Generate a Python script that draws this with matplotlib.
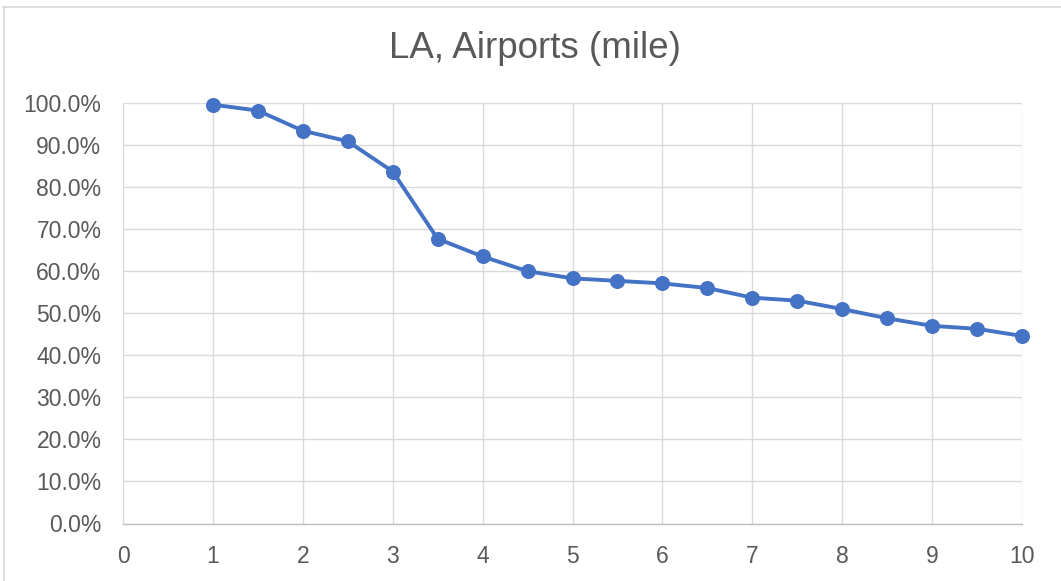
import matplotlib
matplotlib.use("Agg")
import matplotlib.pyplot as plt
from matplotlib.lines import Line2D
from matplotlib.ticker import PercentFormatter

# Distance in miles and share of locations within that distance
distance_miles = [1, 1.5, 2, 2.5, 3, 3.5, 4, 4.5, 5, 5.5, 6, 6.5, 7, 7.5, 8, 8.5, 9, 9.5, 10]
share_pct = [99.6, 98.2, 93.4, 90.9, 83.7, 67.7, 63.5, 60.0, 58.3, 57.7, 57.1, 56.0,
             53.7, 53.0, 51.0, 48.8, 47.0, 46.3, 44.6]
x_ticks = list(range(0, 11))
y_ticks = list(range(0, 101, 10))
title = "LA, Airports (mile)"

plt.rcParams["font.family"] = ["Liberation Sans", "DejaVu Sans"]

W, H = 1061, 581
fig = plt.figure(figsize=(W / 100, H / 100), dpi=100)
ax = fig.add_axes([123 / W, 1 - 523.5 / H, (1022 - 123) / W, (523.5 - 103) / H])

# Chart-area border (top and left edges)
border = dict(transform=fig.transFigure, color="#D9D9D9", linewidth=1.2, zorder=0)
fig.add_artist(Line2D([3 / W, 1.0], [1 - 6.5 / H, 1 - 6.5 / H], **border))
fig.add_artist(Line2D([3.5 / W, 3.5 / W], [0.0, 1 - 6.5 / H], **border))

ax.plot(distance_miles, share_pct, color="#4472C4", linewidth=2.8,
        marker="o", markersize=9.8, markerfacecolor="#4472C4",
        markeredgecolor="#4472C4", zorder=3, clip_on=False)

ax.set_xlim(0, 10)
ax.set_ylim(0, 100)
ax.set_xticks(x_ticks)
ax.set_yticks(y_ticks)
ax.yaxis.set_major_formatter(PercentFormatter(decimals=1))
ax.grid(True, color="#D9D9D9", linewidth=1.0)
ax.set_axisbelow(True)

for side in ("top", "right", "left"):
    ax.spines[side].set_visible(False)
ax.spines["bottom"].set_color("#BFBFBF")
ax.spines["bottom"].set_linewidth(1.0)

ax.tick_params(axis="both", length=0, labelsize=16.5, labelcolor="#595959")
ax.tick_params(axis="x", pad=15.5)
ax.tick_params(axis="y", pad=15.5)

fig.text(534.5 / W, 1 - 49 / H, title, ha="center", va="center",
         fontsize=26.5, color="#595959")

fig.savefig("out.png", dpi=100, facecolor="white")
